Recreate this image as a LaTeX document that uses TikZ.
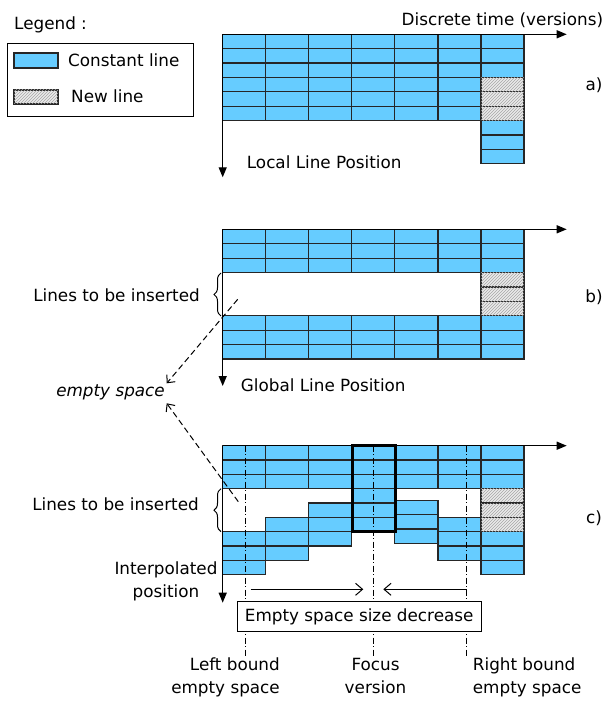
\documentclass[tikz,border=0pt]{standalone}
\usepackage{fontspec}
\setmainfont{DejaVu Sans}
\usetikzlibrary{arrows.meta,patterns,decorations.pathreplacing}
\definecolor{cblue}{RGB}{102,204,255}
\newcommand\mycell[4]{\draw[#1] ({222.7+43.04*#2},{#4+\rh*#3}) rectangle ++(43.04,\rh);}
\begin{document}
\begin{tikzpicture}[x=1pt,y=-1pt,
  cell/.style={draw=black!85,line width=1.2pt,fill=cblue},
  newcell/.style={draw=black!85,line width=1.2pt,fill=black!8,postaction={pattern=north east lines,pattern color=black!35}},
  axis/.style={line width=1.3pt,-{Triangle[length=10pt,width=8pt]}},
  lbl/.style={font=\fontsize{16.8}{23}\selectfont,inner sep=0pt},
  dashdot/.style={line width=0.8pt,dash pattern=on 6pt off 2.5pt on 1pt off 2.5pt},
  dashedarrow/.style={line width=1pt,dash pattern=on 6pt off 3.5pt,-{Straight Barb[length=6pt,width=11pt]}},
  openarrow/.style={line width=1pt,-{Straight Barb[length=7pt,width=12pt]}},
  bracestyle/.style={decorate,decoration={brace,amplitude=7pt},line width=1pt}]
\useasboundingbox (0,0) rectangle (610,703);

% ---------------- legend
\node[lbl,anchor=west] (legtitle) at (14,25) {Legend :};
\node[draw,line width=1pt,minimum width=186pt,minimum height=73pt,anchor=north west,inner sep=0pt] (legbox) at (7,43) {};
\draw[cell] (14,53) rectangle (58,68);
\node[lbl,anchor=west] (legconst) at (68,60) {Constant line};
\draw[newcell] (14,90) rectangle (58,104);
\node[lbl,anchor=west] (legnew) at (71,96) {New line};

% ---------------- panel a
\def\rh{14.4}
\foreach \c in {0,...,5}{\foreach \r in {0,...,5}{\mycell{cell}{\c}{\r}{34.3}}}
\foreach \r in {0,1,2,6,7,8}{\mycell{cell}{6}{\r}{34.3}}
\foreach \r in {3,4,5}{\mycell{newcell}{6}{\r}{34.3}}
\coordinate (oa) at (222.7,34.3);
\coordinate (xa) at (566.7,34.3);
\coordinate (ya) at (222.7,177.3);
\draw[axis] (oa) -- (xa);
\draw[axis] (oa) -- (ya);
\node[lbl,anchor=east] (tlabel) at (603.3,20) {Discrete time (versions)};
\node[lbl,anchor=west] (llp) at (246.7,162.7) {Local Line Position};
\node[lbl] (la) at (594,85) {a)};

% ---------------- panel b
\foreach \c in {0,...,6}{\foreach \r in {0,1,2,6,7,8}{\mycell{cell}{\c}{\r}{229.3}}}
\foreach \r in {3,4,5}{\mycell{newcell}{6}{\r}{229.3}}
\coordinate (ob) at (222.7,229.3);
\coordinate (xb) at (566.7,229.3);
\coordinate (yb) at (222.7,386);
\draw[axis] (ob) -- (xb);
\draw[axis] (ob) -- (yb);
\node[lbl,anchor=west] (glp) at (240.7,385) {Global Line Position};
\node[lbl] (lb) at (594,297) {b)};
\coordinate (bb1) at (221,316);
\coordinate (bb2) at (221,273);
\draw[bracestyle] (bb1) -- (bb2);
\node[lbl,anchor=east] (ltbi1) at (200,295) {Lines to be inserted};

% ---------------- panel c
\def\rh{14.33}
\foreach \c/\rows in {0/{0,1,2,6,7,8},1/{0,1,2,5,6,7},2/{0,1,2,4,5,6},3/{0,1,2,3,4,5},4/{0,1,2,3.81,4.81,5.81},5/{0,1,2,5,6,7},6/{0,1,2,6,7,8}}{
  \foreach \r in \rows {\mycell{cell}{\c}{\r}{445.7}}}
\foreach \r in {3,4,5}{\mycell{newcell}{6}{\r}{445.7}}
\draw[line width=2.8pt] (352.1,445.7) rectangle (395.1,531.7);
\coordinate (dl1) at (245.3,445.7); \coordinate (dl2) at (245.3,658);
\coordinate (df1) at (373.3,445.7); \coordinate (df2) at (373.3,658);
\coordinate (dr1) at (466.7,445.7); \coordinate (dr2) at (466.7,658);
\draw[dashdot] (dl1) -- (dl2);
\draw[dashdot] (df1) -- (df2);
\draw[dashdot] (dr1) -- (dr2);
\coordinate (oc) at (222.7,445.7);
\coordinate (xc) at (566.7,445.7);
\coordinate (yc) at (222.7,602.7);
\draw[axis] (oc) -- (xc);
\draw[axis] (oc) -- (yc);
\node[lbl] (lc) at (594,518) {c)};
\coordinate (cb1) at (221,531.7);
\coordinate (cb2) at (221,488.7);
\draw[bracestyle] (cb1) -- (cb2);
\node[lbl,anchor=east] (ltbi2) at (199,504) {Lines to be inserted};
\node[lbl,align=center] (interp) at (166,581.5) {Interpolated\\position};

\coordinate (ar1s) at (250.7,589.3); \coordinate (ar1e) at (363.3,589.3);
\coordinate (ar2s) at (466.7,589.3); \coordinate (ar2e) at (383.3,589.3);
\draw[openarrow] (ar1s) -- (ar1e);
\draw[openarrow] (ar2s) -- (ar2e);
\node[lbl,draw,line width=1pt,fill=white,minimum width=243.7pt,minimum height=29.3pt] (esd) at (359.2,616.4) {Empty space size decrease};

\node[lbl,align=right,anchor=north east] (leftb) at (280,658) {Left bound\\empty space};
\node[lbl,align=center,anchor=north] (focus) at (375.5,658) {Focus\\version};
\node[lbl,align=left,anchor=north west] (rightb) at (472.7,658) {Right bound\\empty space};

% ---------------- empty space pointer
\node[lbl,font=\fontsize{16.8}{23}\selectfont\itshape,anchor=east] (es) at (165,392) {empty space};
\coordinate (p1) at (237.7,299.3);
\coordinate (p2) at (238.3,501.7);
\coordinate (q1) at (166.7,383.3);
\coordinate (q2) at (166.7,403.3);
\draw[dashedarrow] (p1) -- (q1);
\draw[dashedarrow] (p2) -- (q2);
\end{tikzpicture}
\end{document}
